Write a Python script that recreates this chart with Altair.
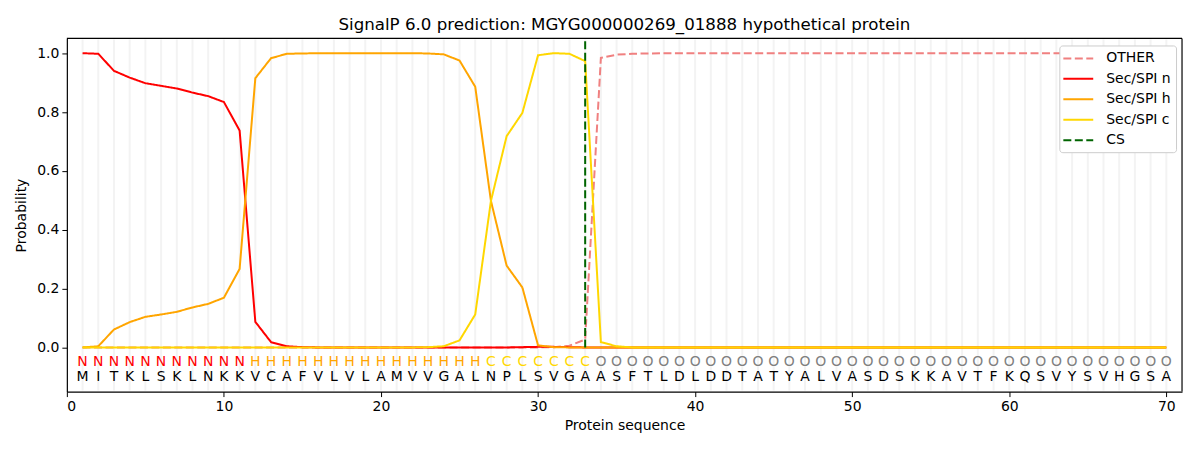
import altair as alt
import pandas as pd

positions = list(range(1, 71))
sequence = list("MITKLSKLNKKVCAFVLVLAMVVGALNPLSVGAASFTLDLDDTATYALVASDSKKAVTFKQSVYSVHGSA")
region = list("NNNNNNNNNNNHHHHHHHHHHHHHHHCCCCCCCOOOOOOOOOOOOOOOOOOOOOOOOOOOOOOOOOOOOO")

other = [0.0, 0.0, 0.0, 0.0, 0.0, 0.0, 0.0, 0.0, 0.0, 0.0,
         0.0, 0.0, 0.0, 0.0, 0.0, 0.0, 0.0, 0.0, 0.0, 0.0,
         0.0, 0.0, 0.0, 0.0, 0.0, 0.0, 0.0, 0.0, 0.0, 0.0,
         0.001, 0.006, 0.027, 0.984, 0.995, 0.998, 0.999, 1.0, 1.0, 1.0,
         1.0, 1.0, 1.0, 1.0, 1.0, 1.0, 1.0, 1.0, 1.0, 1.0,
         1.0, 1.0, 1.0, 1.0, 1.0, 1.0, 1.0, 1.0, 1.0, 1.0,
         1.0, 1.0, 1.0, 1.0, 1.0, 1.0, 1.0, 1.0, 1.0, 1.0]
sec_n = [1.0, 0.998, 0.94, 0.917, 0.898, 0.889, 0.88, 0.866, 0.854, 0.834,
         0.737, 0.087, 0.018, 0.004, 0.001, 0.0, 0.0, 0.0, 0.0, 0.0,
         0.0, 0.0, 0.0, 0.0, 0.0, 0.0, 0.0, 0.0, 0.001, 0.002,
         0.002, 0.001, 0.0, 0.0, 0.0, 0.0, 0.0, 0.0, 0.0, 0.0,
         0.0, 0.0, 0.0, 0.0, 0.0, 0.0, 0.0, 0.0, 0.0, 0.0,
         0.0, 0.0, 0.0, 0.0, 0.0, 0.0, 0.0, 0.0, 0.0, 0.0,
         0.0, 0.0, 0.0, 0.0, 0.0, 0.0, 0.0, 0.0, 0.0, 0.0]
sec_h = [0.0, 0.004, 0.061, 0.086, 0.104, 0.112, 0.121, 0.136, 0.148, 0.169,
         0.267, 0.915, 0.983, 0.998, 0.999, 1.0, 1.0, 1.0, 1.0, 1.0,
         1.0, 1.0, 0.999, 0.996, 0.975, 0.886, 0.498, 0.278, 0.204, 0.007,
         0.001, 0.0, 0.0, 0.0, 0.0, 0.0, 0.0, 0.0, 0.0, 0.0,
         0.0, 0.0, 0.0, 0.0, 0.0, 0.0, 0.0, 0.0, 0.0, 0.0,
         0.0, 0.0, 0.0, 0.0, 0.0, 0.0, 0.0, 0.0, 0.0, 0.0,
         0.0, 0.0, 0.0, 0.0, 0.0, 0.0, 0.0, 0.0, 0.0, 0.0]
sec_c = [0.0, 0.0, 0.0, 0.0, 0.0, 0.0, 0.0, 0.0, 0.0, 0.0,
         0.0, 0.0, 0.0, 0.0, 0.0, 0.0, 0.0, 0.0, 0.0, 0.0,
         0.0, 0.0, 0.001, 0.004, 0.024, 0.112, 0.498, 0.718, 0.797, 0.993,
         1.0, 0.998, 0.973, 0.018, 0.004, 0.0, 0.0, 0.0, 0.0, 0.0,
         0.0, 0.0, 0.0, 0.0, 0.0, 0.0, 0.0, 0.0, 0.0, 0.0,
         0.0, 0.0, 0.0, 0.0, 0.0, 0.0, 0.0, 0.0, 0.0, 0.0,
         0.0, 0.0, 0.0, 0.0, 0.0, 0.0, 0.0, 0.0, 0.0, 0.0]
cs_position = 33

series_names = ["OTHER", "Sec/SPI n", "Sec/SPI h", "Sec/SPI c", "CS"]
series_colors = ["#f08080", "#ff0000", "#ffa500", "#ffd700", "#006400"]
series_dash = [[8, 3.5], [1, 0], [1, 0], [1, 0], [8, 3.5]]
region_colors = {"N": "#ff0000", "H": "#ffa500", "C": "#ffd700", "O": "#808080"}

FONT = "DejaVu Sans"
W, H = 1118, 354

rows = []
for name, vals in zip(series_names[:4], [other, sec_n, sec_h, sec_c]):
    for p, v in zip(positions, vals):
        rows.append({"series": name, "pos": p, "prob": v})
lines_df = pd.DataFrame(rows)

letters_df = pd.DataFrame({
    "pos": positions,
    "aa": sequence,
    "region": region,
    "rcolor": [region_colors[r] for r in region],
})

cs_df = pd.DataFrame({"series": ["CS"], "pos": [cs_position], "y0": [0.0], "y1": [1.05]})
grid_df = pd.DataFrame({"pos": positions})
edge_df = pd.DataFrame({"edge": ["frame"]})

x_scale = alt.Scale(domain=[0, 71], nice=False, zero=False)
y_scale = alt.Scale(domain=[-0.15, 1.05], nice=False, zero=False)

legend = alt.Legend(title=None, orient="top-right")
color_enc = alt.Color(
    "series:N",
    scale=alt.Scale(domain=series_names, range=series_colors),
    legend=legend,
)
dash_enc = alt.StrokeDash(
    "series:N",
    scale=alt.Scale(domain=series_names, range=series_dash),
    legend=legend,
)

x_axis = alt.Axis(values=[0, 10, 20, 30, 40, 50, 60, 70], title="Protein sequence", grid=False)
y_axis = alt.Axis(values=[0, 0.2, 0.4, 0.6, 0.8, 1.0], format=".1f", title="Probability", grid=False)

grid = alt.Chart(grid_df).mark_rule(color="#f3f3f3", strokeWidth=2).encode(
    x=alt.X("pos:Q", scale=x_scale, axis=x_axis),
    y=alt.value(1),
    y2=alt.value(H - 1),
)

lines = alt.Chart(lines_df).mark_line(strokeWidth=2).encode(
    x=alt.X("pos:Q", scale=x_scale),
    y=alt.Y("prob:Q", scale=y_scale, axis=y_axis),
    color=color_enc,
    strokeDash=dash_enc,
    order=alt.Order("pos:Q"),
)

cs_rule = alt.Chart(cs_df).mark_rule(strokeWidth=2).encode(
    x=alt.X("pos:Q", scale=x_scale),
    y=alt.Y("y0:Q", scale=y_scale),
    y2="y1:Q",
    color=color_enc,
    strokeDash=dash_enc,
)

region_text = alt.Chart(letters_df).mark_text(font=FONT, fontSize=14, baseline="middle", align="center").encode(
    x=alt.X("pos:Q", scale=x_scale),
    y=alt.value(324),
    text="region:N",
    fill=alt.Fill("rcolor:N", scale=None, legend=None),
)

aa_text = alt.Chart(letters_df).mark_text(font=FONT, fontSize=14, baseline="middle", align="center", color="#000000").encode(
    x=alt.X("pos:Q", scale=x_scale),
    y=alt.value(339),
    text="aa:N",
)

# frame edges (top and right spines) drawn over everything
top_edge = alt.Chart(edge_df).mark_rule(color="#000000", strokeWidth=1.2).encode(
    x=alt.value(0), x2=alt.value(W), y=alt.value(0)
)
right_edge = alt.Chart(edge_df).mark_rule(color="#000000", strokeWidth=1.2).encode(
    x=alt.value(W), y=alt.value(0), y2=alt.value(H)
)

chart = alt.layer(grid, lines, cs_rule, region_text, aa_text, top_edge, right_edge).properties(
    width=W,
    height=H,
    title=alt.TitleParams("SignalP 6.0 prediction: MGYG000000269_01888 hypothetical protein",
                          font=FONT, fontSize=16.7, fontWeight="normal", color="#000000", offset=4),
    autosize=alt.AutoSizeParams(type="none"),
    padding={"left": 59, "top": 30, "right": 10, "bottom": 50},
).configure_view(
    stroke="transparent"
).configure_axis(
    domainColor="#000000", tickColor="#000000", tickSize=5, tickWidth=1, domainWidth=1.2,
    labelFont=FONT, labelFontSize=14, labelColor="#000000", labelPadding=3,
    titleFont=FONT, titleFontSize=14, titleFontWeight="normal", titleColor="#000000",
).configure_axisX(titlePadding=5).configure_axisY(titlePadding=8).configure_legend(
    labelFont=FONT, labelFontSize=14, labelColor="#000000",
    strokeColor="#cccccc", fillColor="#ffffff", cornerRadius=3, padding=5,
    symbolType="M-2.14,0L2.14,0", symbolSize=196, symbolStrokeWidth=2,
    symbolOffset=6, labelOffset=20, rowPadding=5.5, offset=6.5,
)

chart.save("out.html", embed_options={"renderer": "svg", "actions": False})
